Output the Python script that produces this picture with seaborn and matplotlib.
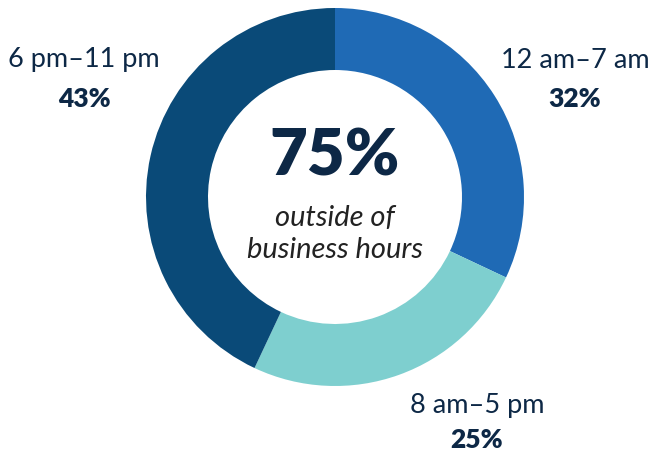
import matplotlib
matplotlib.use("Agg")
import matplotlib.pyplot as plt
import seaborn as sns

labels = ["12 am\u20137 am", "8 am\u20135 pm", "6 pm\u201311 pm"]
values = [32, 25, 43]
pct_labels = ["32%", "25%", "43%"]
colors = ["#1f6ab5", "#7ecfcf", "#0a4a78"]
center_big = "75%"
center_sub = "outside of\nbusiness hours"

sns.set_theme(style="white")
plt.rcParams['font.family'] = ['Lato', 'DejaVu Sans']

W, H = 652, 453
fig = plt.figure(figsize=(W / 100, H / 100), dpi=100)
ax = fig.add_axes([0, 0, 1, 1])

cx, cy = 335, H - 197
R = 189
ax.pie(values, colors=colors, startangle=90, counterclock=False,
       center=(cx, cy), radius=R, frame=True,
       wedgeprops=dict(width=R - 127, edgecolor="none", linewidth=0))
ax.set_xlim(0, W)
ax.set_ylim(0, H)
ax.set_aspect("equal")
ax.axis("off")

txt = "#0d2846"
label_pos = [(575, 60, 99), (477, 406, 440), (84, 60, 99)]
for lab, pct, (x, y1, y2) in zip(labels, pct_labels, label_pos):
    ax.text(x, H - y1, lab, ha="center", va="center", fontsize=19.5, color=txt)
    ax.text(x, H - y2, pct, ha="center", va="center", fontsize=19, color=txt, fontweight="heavy")

ax.text(cx, H - 157, center_big, ha="center", va="center", fontsize=47, fontweight="heavy", color=txt)
ax.text(cx, H - 218, "outside of", ha="center", va="center", fontsize=21, style="italic",
        color="#222222")
ax.text(cx, H - 250, "business hours", ha="center", va="center", fontsize=21, style="italic",
        color="#222222")

fig.savefig("out.png", dpi=100)
